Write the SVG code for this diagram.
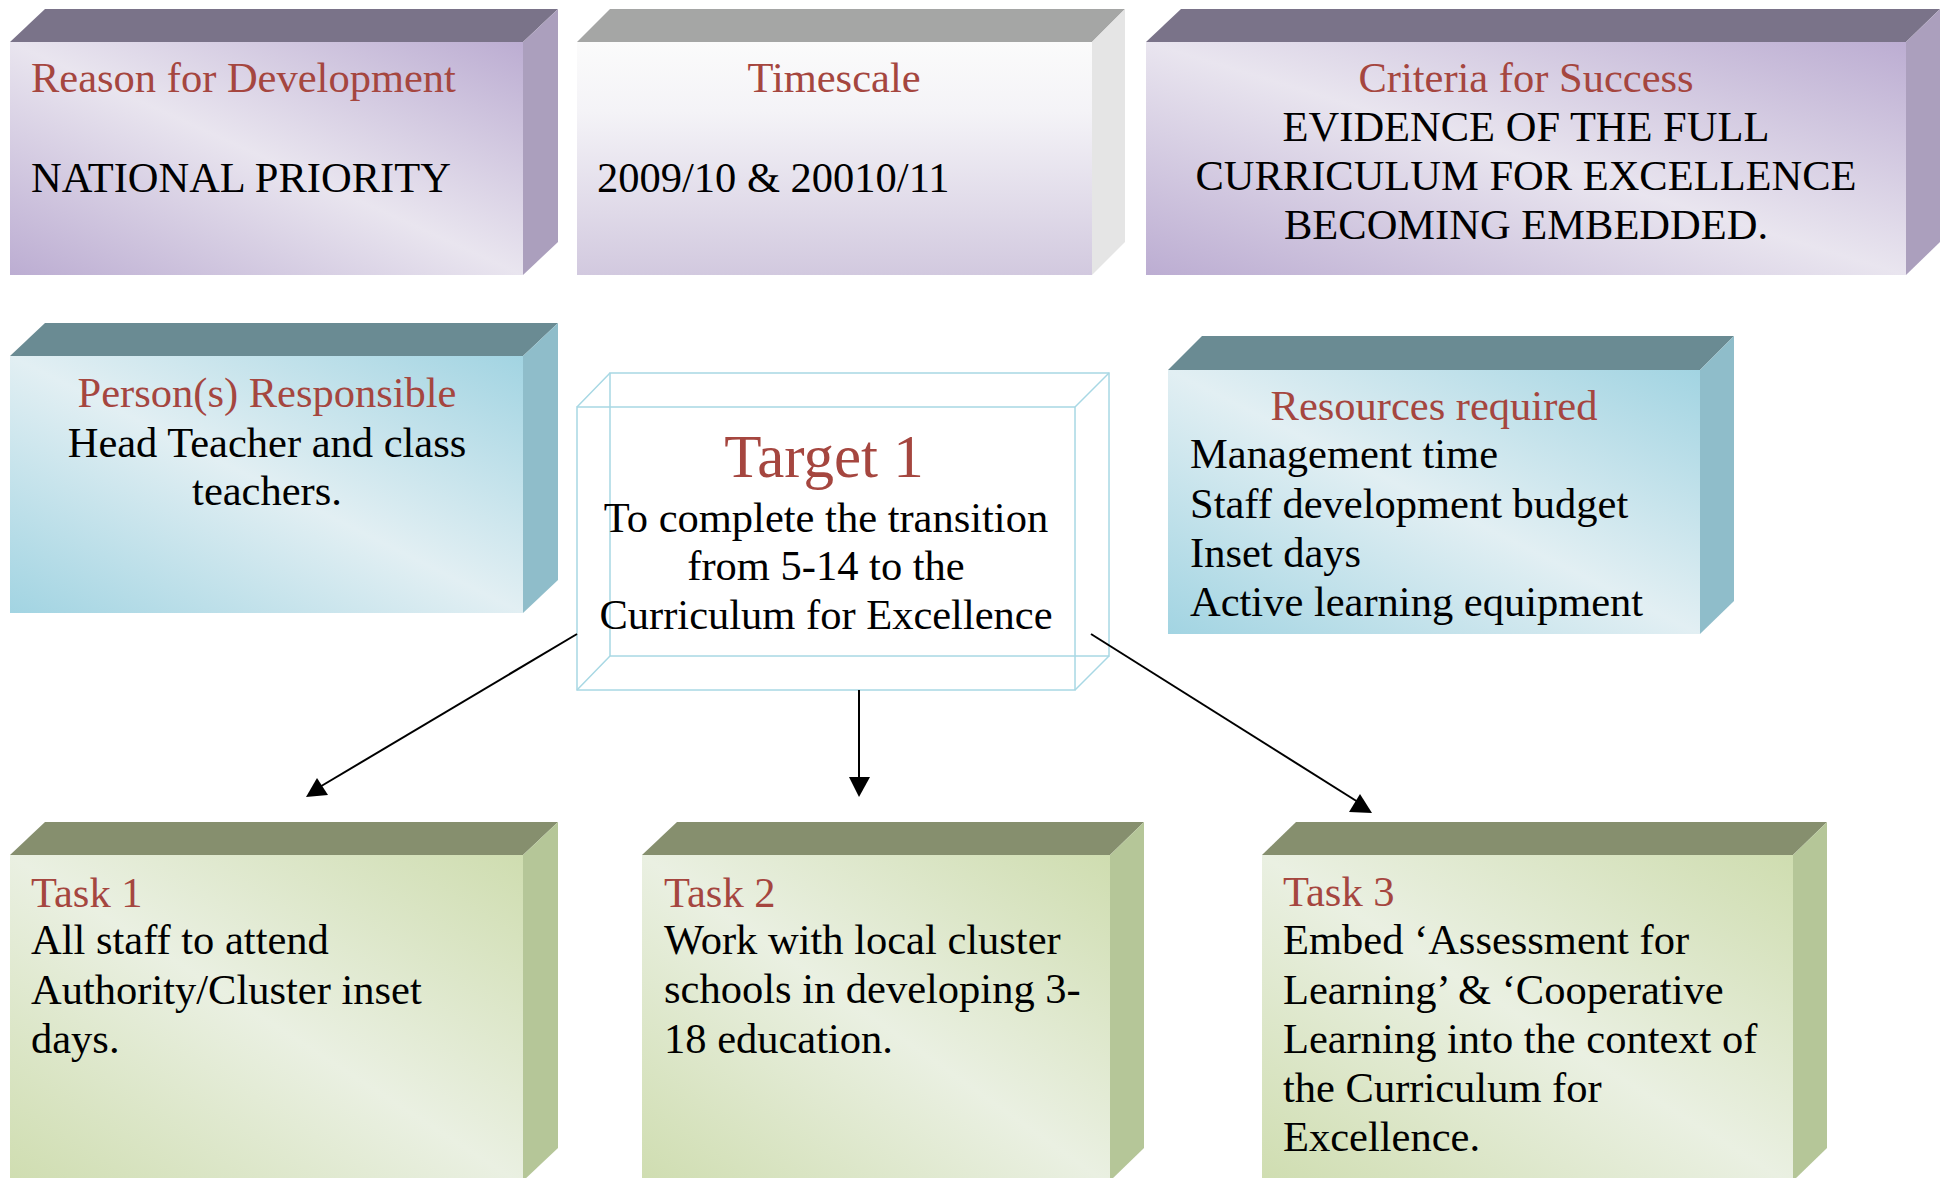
<svg xmlns="http://www.w3.org/2000/svg" width="1944" height="1178" viewBox="0 0 1944 1178">
<defs>
<style>
text{font-family:"Liberation Serif","Times New Roman",serif;font-size:42.5px;fill:#000}
.t{fill:#a5463f}
.big{font-size:61px}
.c{text-anchor:middle}
.pt{fill:#7a7389}.ps{fill:#ab9fbd}.pf{fill:url(#gp)}
.tt{fill:#6a8b93}.ts{fill:#8fbdca}.tf{fill:url(#gt)}
.gtp{fill:#868f6e}.gs{fill:#b5c698}.gf{fill:url(#gg)}
.wire{fill:none;stroke:#a8d8e4;stroke-width:1.5}
.conn{stroke:#000;stroke-width:2;fill:none}
.head{fill:#000}
</style>
<linearGradient id="gp" x1="0" y1="1" x2="1" y2="0">
<stop offset="0" stop-color="#bcadd2"/><stop offset="0.5" stop-color="#e9e5ef"/><stop offset="1" stop-color="#bcadd2"/>
</linearGradient>
<linearGradient id="gt" x1="0" y1="1" x2="1" y2="0">
<stop offset="0" stop-color="#a2d4e2"/><stop offset="0.5" stop-color="#e2eff3"/><stop offset="1" stop-color="#a2d4e2"/>
</linearGradient>
<linearGradient id="gg" x1="0" y1="1" x2="1" y2="0">
<stop offset="0" stop-color="#cfddb0"/><stop offset="0.5" stop-color="#eaf0e2"/><stop offset="1" stop-color="#cfddb0"/>
</linearGradient>
<linearGradient id="gw" x1="0" y1="0" x2="0" y2="1">
<stop offset="0" stop-color="#fbfbfb"/><stop offset="0.3" stop-color="#f4f3f7"/><stop offset="1" stop-color="#d2c9df"/>
</linearGradient>
</defs>

<g id="reason">
<polygon class="pt" points="10,42 45,9 558,9 523,42"/>
<polygon class="ps" points="523,42 558,9 558,242 523,275"/>
<rect class="pf" x="10" y="42" width="513" height="233"/>
<text class="t" x="31" y="92">Reason for Development</text>
<text x="31" y="192">NATIONAL PRIORITY</text>
</g>

<g id="timescale">
<polygon fill="#a5a6a5" points="577,42 610,9 1125,9 1092,42"/>
<polygon fill="#e5e5e5" points="1092,42 1125,9 1125,242 1092,275"/>
<rect fill="url(#gw)" x="577" y="42" width="515" height="233"/>
<text class="t c" x="834" y="92">Timescale</text>
<text x="597" y="192">2009/10 &amp; 20010/11</text>
</g>

<g id="criteria">
<polygon class="pt" points="1146,42 1181,9 1940,9 1906,42"/>
<polygon class="ps" points="1906,42 1940,9 1940,242 1906,275"/>
<rect class="pf" x="1146" y="42" width="760" height="233"/>
<text class="t c" x="1526" y="92">Criteria for Success</text>
<text class="c" x="1526" y="141">EVIDENCE OF THE FULL</text>
<text class="c" x="1526" y="190">CURRICULUM FOR EXCELLENCE</text>
<text class="c" x="1526" y="239">BECOMING EMBEDDED.</text>
</g>

<g id="persons">
<polygon class="tt" points="10,356 45,323 558,323 523,356"/>
<polygon class="ts" points="523,356 558,323 558,580 523,613"/>
<rect class="tf" x="10" y="356" width="513" height="257"/>
<text class="t c" x="267" y="407">Person(s) Responsible</text>
<text class="c" x="267" y="457">Head Teacher and class</text>
<text class="c" x="267" y="505">teachers.</text>
</g>

<g id="target">
<rect fill="#fff" x="577" y="407" width="498" height="283"/>
<rect class="wire" x="610" y="373" width="499" height="283"/>
<rect class="wire" x="577" y="407" width="498" height="283"/>
<path class="wire" d="M577,407 L610,373 M1075,407 L1109,373 M577,690 L610,656 M1075,690 L1109,656"/>
<text class="t c big" x="824" y="477">Target 1</text>
<text class="c" x="826" y="532">To complete the transition</text>
<text class="c" x="826" y="580">from 5-14 to the</text>
<text class="c" x="826" y="629">Curriculum for Excellence</text>
</g>

<g id="resources">
<polygon class="tt" points="1168,370 1202,336 1734,336 1700,370"/>
<polygon class="ts" points="1700,370 1734,336 1734,601 1700,634"/>
<rect class="tf" x="1168" y="370" width="532" height="264"/>
<text class="t c" x="1434" y="420">Resources required</text>
<text x="1190" y="468">Management time</text>
<text x="1190" y="518">Staff development budget</text>
<text x="1190" y="567">Inset days</text>
<text x="1190" y="616">Active learning equipment</text>
</g>

<g id="task1">
<polygon class="gtp" points="10,855 45,822 558,822 523,855"/>
<polygon class="gs" points="523,855 558,822 558,1148 523,1181"/>
<rect class="gf" x="10" y="855" width="513" height="330"/>
<text class="t" x="31" y="907">Task 1</text>
<text x="31" y="954">All staff to attend</text>
<text x="31" y="1004">Authority/Cluster inset</text>
<text x="31" y="1053">days.</text>
</g>

<g id="task2">
<polygon class="gtp" points="642,855 677,822 1144,822 1110,855"/>
<polygon class="gs" points="1110,855 1144,822 1144,1148 1110,1181"/>
<rect class="gf" x="642" y="855" width="468" height="330"/>
<text class="t" x="664" y="907">Task 2</text>
<text x="664" y="954">Work with local cluster</text>
<text x="664" y="1003">schools in developing 3-</text>
<text x="664" y="1053">18 education.</text>
</g>

<g id="task3">
<polygon class="gtp" points="1262,855 1296,822 1827,822 1793,855"/>
<polygon class="gs" points="1793,855 1827,822 1827,1148 1793,1181"/>
<rect class="gf" x="1262" y="855" width="531" height="330"/>
<text class="t" x="1283" y="906">Task 3</text>
<text x="1283" y="954">Embed ‘Assessment for</text>
<text x="1283" y="1004">Learning’ &amp; ‘Cooperative</text>
<text x="1283" y="1053">Learning into the context of</text>
<text x="1283" y="1102">the Curriculum for</text>
<text x="1283" y="1151">Excellence.</text>
</g>

<g id="connectors">
<line class="conn" x1="577" y1="634" x2="318" y2="788"/>
<polygon class="head" points="306,797 317,778 328,795"/>
<line class="conn" x1="859" y1="690" x2="859" y2="780"/>
<polygon class="head" points="849,777 870,777 859,797"/>
<line class="conn" x1="1091" y1="634" x2="1358" y2="802"/>
<polygon class="head" points="1349,812 1360,794 1372,813"/>
</g>
</svg>
